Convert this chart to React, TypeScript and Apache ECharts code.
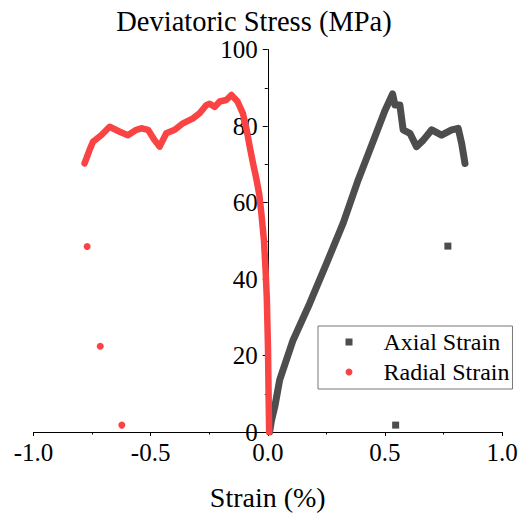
import React, { useEffect, useRef } from "react";
import * as echarts from "echarts";

// Stress–strain readings from the triaxial test: [strain %, deviatoric stress MPa]
const axialCurve: [number, number][] = [
  [0.008, 0], [0.016, 3], [0.03, 6.6], [0.051, 13.6], [0.108, 24],
  [0.179, 33.6], [0.251, 44.1], [0.322, 54.6], [0.386, 65.9], [0.45, 76],
  [0.5, 84], [0.533, 88.4], [0.543, 85.5], [0.564, 85.5], [0.578, 79.0],
  [0.607, 78.1], [0.635, 74.6], [0.664, 76.3], [0.7, 79.0], [0.742, 77.6],
  [0.785, 79.0], [0.813, 79.4], [0.828, 75.4], [0.842, 70.2],
];
const axialStray: [number, number][] = [
  [0.769, 48.6], [0.546, 1.8],
];

const radialCurve: [number, number][] = [
  [0.006, 0], [0.004, 8], [0.001, 22], [-0.004, 35], [-0.009, 42],
  [-0.016, 50], [-0.027, 57], [-0.036, 62], [-0.048, 66], [-0.062, 70],
  [-0.077, 74.6], [-0.09, 79], [-0.106, 83.3], [-0.13, 86.5], [-0.155, 88.1],
  [-0.177, 86.8], [-0.205, 86.4], [-0.226, 85.0], [-0.248, 85.8], [-0.262, 85.5],
  [-0.29, 83.4], [-0.319, 82.0], [-0.362, 80.7], [-0.397, 79.0], [-0.433, 78.1],
  [-0.462, 74.6], [-0.483, 76.3], [-0.511, 79.0], [-0.54, 79.4], [-0.561, 79.0],
  [-0.597, 77.6], [-0.632, 78.5], [-0.675, 79.8], [-0.711, 77.6], [-0.746, 75.9],
  [-0.761, 73.7], [-0.782, 70.2],
];
const radialStray: [number, number][] = [
  [-0.771, 48.5], [-0.715, 22.4], [-0.623, 1.8],
];

const seriesNames = ["Axial Strain", "Radial Strain"];
const xTitle = "Strain (%)";
const yTitle = "Deviatoric Stress (MPa)";

const GRAY = "#4d4d4d";
const RED = "#fa4444";
const FONT = "Liberation Serif";

// Plot area and x range; the stress axis is drawn where strain = 0
const GRID_LEFT = 33.5;
const GRID_RIGHT = 20;
const CHART_W = 522;
const X_MIN = -1;
const X_MAX = 1;

export default function App() {
  const ref = useRef<HTMLDivElement>(null);

  useEffect(() => {
    if (!ref.current) return;
    const chart = echarts.init(ref.current, undefined, { renderer: "svg" });

    const plotW = CHART_W - GRID_LEFT - GRID_RIGHT;
    const zeroOffset = -((0 - X_MIN) / (X_MAX - X_MIN)) * plotW;

    chart.setOption({
      animation: false,
      backgroundColor: "#fff",
      textStyle: { fontFamily: FONT, color: "#000" },
      title: {
        text: yTitle,
        left: 254,
        top: 7,
        padding: 0,
        textAlign: "center",
        textStyle: { fontFamily: FONT, fontSize: 28.5, fontWeight: "normal", color: "#000" },
      },
      grid: {
        left: GRID_LEFT,
        right: GRID_RIGHT,
        top: 49.5,
        bottom: 82,
        containLabel: false,
        outerBoundsMode: "none",
      },
      xAxis: {
        type: "value",
        min: X_MIN,
        max: X_MAX,
        interval: 0.5,
        name: xTitle,
        nameLocation: "middle",
        nameGap: 51,
        nameTextStyle: { fontFamily: FONT, fontSize: 28, color: "#000" },
        axisLine: { show: true, onZero: false, lineStyle: { color: "#000", width: 1 } },
        splitLine: { show: false },
        axisTick: { show: true, length: 4, lineStyle: { color: "#000" } },
        minorTick: { show: true, splitNumber: 2, length: 2.5, lineStyle: { color: "#000" } },
        axisLabel: {
          margin: 8,
          fontFamily: FONT,
          fontSize: 25,
          color: "#000",
          formatter: (v: number) => v.toFixed(1),
        },
      },
      yAxis: {
        type: "value",
        min: 0,
        max: 100,
        interval: 20,
        offset: zeroOffset,
        axisLine: { show: true, onZero: false, lineStyle: { color: "#000", width: 1 } },
        splitLine: { show: false },
        axisTick: { show: true, length: 5, lineStyle: { color: "#000" } },
        minorTick: { show: true, splitNumber: 2, length: 3, lineStyle: { color: "#000" } },
        axisLabel: { margin: 10, fontFamily: FONT, fontSize: 25, color: "#000" },
      },
      legend: {
        orient: "vertical",
        left: 318,
        top: 326,
        padding: [4, 3, 5, 27.5],
        itemGap: 6,
        itemWidth: 7,
        itemHeight: 7,
        borderColor: "#777",
        borderWidth: 1,
        borderRadius: 0,
        data: [
          { name: seriesNames[0], icon: "rect" },
          { name: seriesNames[1], icon: "circle" },
        ],
        formatter: (name: string) => `{gap|}${name}`,
        textStyle: {
          fontFamily: FONT,
          fontSize: 24,
          lineHeight: 24,
          color: "#000",
          rich: { gap: { width: 26 } },
        },
      },
      series: [
        {
          name: seriesNames[0],
          type: "line",
          data: axialCurve,
          showSymbol: false,
          symbol: "rect",
          itemStyle: { color: GRAY },
          lineStyle: { color: GRAY, width: 7, cap: "round", join: "round" },
          z: 2,
        },
        {
          name: seriesNames[0],
          type: "scatter",
          data: axialStray,
          symbol: "rect",
          symbolSize: 7,
          itemStyle: { color: GRAY, opacity: 1 },
          z: 2,
        },
        {
          name: seriesNames[1],
          type: "line",
          data: radialCurve,
          showSymbol: false,
          symbol: "circle",
          itemStyle: { color: RED },
          lineStyle: { color: RED, width: 6.5, cap: "round", join: "round" },
          z: 3,
        },
        {
          name: seriesNames[1],
          type: "scatter",
          data: radialStray,
          symbol: "circle",
          symbolSize: 7,
          itemStyle: { color: RED, opacity: 1 },
          z: 3,
        },
      ],
    });

    return () => chart.dispose();
  }, []);

  return (
    <div
      ref={ref}
      style={{ position: "fixed", left: 0, top: 0, width: 522, height: 514 }}
    />
  );
}
